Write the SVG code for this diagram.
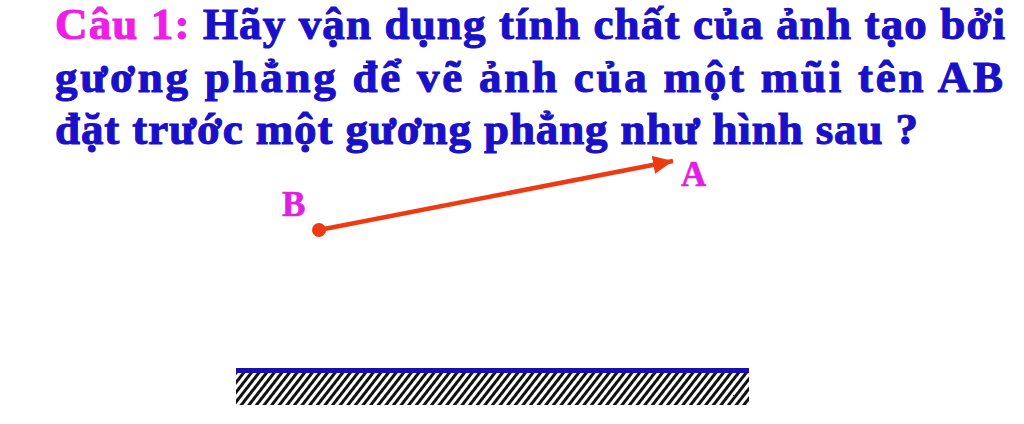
<svg xmlns="http://www.w3.org/2000/svg" width="1024" height="424" viewBox="0 0 1024 424">
<style>
.q{font-family:"Liberation Serif","Times New Roman",serif;font-weight:bold;font-size:45px;fill:#1a10c8;stroke:#1a10c8;stroke-width:1.1}
.m{fill:#ee1ee6;stroke:#ee1ee6}
.lbl{font-family:"Liberation Serif","Times New Roman",serif;font-weight:bold;font-size:35px;fill:#e020e0;stroke:#e020e0;stroke-width:0.6}
</style>
<defs>
<pattern id="hatch" patternUnits="userSpaceOnUse" width="6" height="6" patternTransform="rotate(38)">
<line x1="1.5" y1="0" x2="1.5" y2="6" stroke="#111" stroke-width="3"/>
</pattern>
<marker id="ah" markerWidth="22" markerHeight="22" refX="20" refY="10" orient="auto" markerUnits="userSpaceOnUse">
<path d="M0,1 L20,10 L0,19 z" fill="#ee3a12"/>
</marker>
</defs>
<rect width="1024" height="424" fill="#fff"/>
<g id="question">
<text class="q" x="55" y="39" textLength="950" lengthAdjust="spacing"><tspan class="m">Câu 1:</tspan> Hãy vận dụng tính chất của ảnh tạo bởi</text>
<text class="q" x="55" y="92" textLength="948" lengthAdjust="spacing">gương phẳng để vẽ ảnh của một mũi tên AB</text>
<text class="q" x="55" y="144" textLength="863" lengthAdjust="spacing">đặt trước một gương phẳng như hình sau ?</text>
</g>
<g id="connectors">
<line x1="319" y1="230" x2="673" y2="161" stroke="#ee3a12" stroke-width="4.5" marker-end="url(#ah)"/>
</g>
<g id="nodeB">
<circle cx="319" cy="230" r="7" fill="#ee3a12"/>
<text class="lbl" x="282" y="216">B</text>
</g>
<g id="nodeA">
<text class="lbl" x="681" y="186">A</text>
</g>
<g id="mirror">
<rect x="236" y="373" width="513" height="32" fill="url(#hatch)"/>
<rect x="236" y="368" width="513" height="5" fill="#1a10b0"/>
</g>
</svg>
